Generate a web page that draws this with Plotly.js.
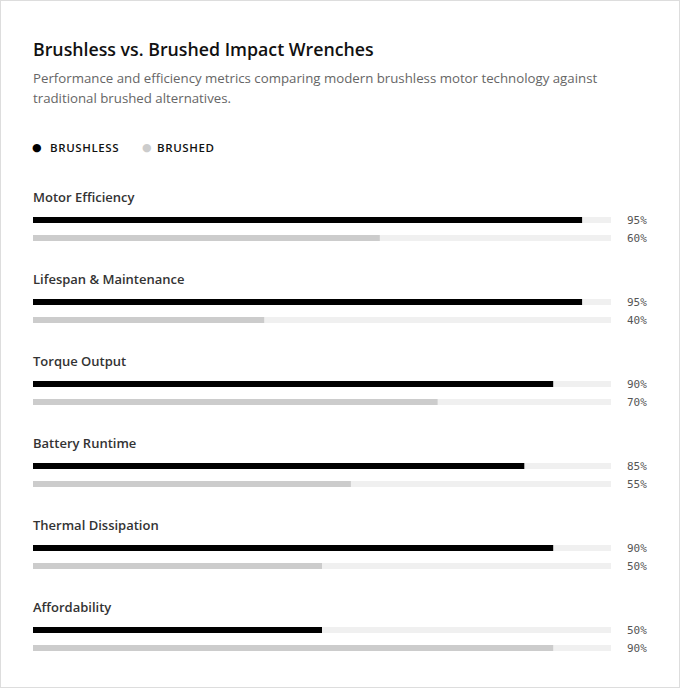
<!DOCTYPE html>
<html>
<head>
<meta charset="utf-8">
<script src="https://cdn.plot.ly/plotly-3.0.1.min.js"></script>
<style>
  html, body { margin: 0; padding: 0; background: #fff; }
  #wrap { width: 680px; height: 688px; box-sizing: border-box; border: 1px solid #ddd; background: #fff; }
  #graph { width: 678px; height: 686px; }
</style>
</head>
<body>
<div id="wrap"><div id="graph"></div></div>
<script>
var metrics = ["Motor Efficiency", "Lifespan & Maintenance", "Torque Output",
               "Battery Runtime", "Thermal Dissipation", "Affordability"];
var brushless = [95, 95, 90, 85, 90, 50];
var brushed = [60, 40, 70, 55, 50, 90];
var seriesNames = ["BRUSHLESS", "BRUSHED"];
var seriesColors = ["#000000", "#cccccc"];

var FONT = "'Open Sans', 'Noto Sans', sans-serif";
var MONO = "'DejaVu Sans Mono', 'Liberation Mono', monospace";

// rows are laid out in pixel units on the y axis (1 unit = 1px)
var rowTop = 196, rowStep = 82, barH = 6;
var TX = -2; // cancels the annotation padding so text starts on the bar edge
function labelY(i) { return rowTop + i * rowStep; }
function barY(i, s) { return rowTop + 23 + s * 18 + i * rowStep; }

var ysA = metrics.map(function (m, i) { return barY(i, 0); });
var ysB = metrics.map(function (m, i) { return barY(i, 1); });

var traces = [
  { type: 'bar', orientation: 'h', x: metrics.map(function () { return 100; }), y: ysA,
    width: barH, marker: { color: '#f0f0f0' }, hoverinfo: 'skip', showlegend: false },
  { type: 'bar', orientation: 'h', x: metrics.map(function () { return 100; }), y: ysB,
    width: barH, marker: { color: '#f0f0f0' }, hoverinfo: 'skip', showlegend: false },
  { type: 'bar', orientation: 'h', x: brushless, y: ysA, width: barH, name: seriesNames[0],
    marker: { color: seriesColors[0] }, showlegend: false },
  { type: 'bar', orientation: 'h', x: brushed, y: ysB, width: barH, name: seriesNames[1],
    marker: { color: seriesColors[1] }, showlegend: false }
];

var annotations = [];
annotations.push({ xref: 'paper', yref: 'y', x: 0, xshift: TX, y: 48, xanchor: 'left', yanchor: 'middle',
  showarrow: false, text: 'Brushless vs. Brushed Impact Wrenches',
  font: { family: FONT, size: 17.75, weight: 600, color: '#111' } });
annotations.push({ xref: 'paper', yref: 'y', x: 0, xshift: TX, y: 77, xanchor: 'left', yanchor: 'middle',
  showarrow: false, text: 'Performance and efficiency metrics comparing modern brushless motor technology against',
  font: { family: FONT, size: 13.25, color: '#666' } });
annotations.push({ xref: 'paper', yref: 'y', x: 0, xshift: TX, y: 97, xanchor: 'left', yanchor: 'middle',
  showarrow: false, text: 'traditional brushed alternatives.',
  font: { family: FONT, size: 13.25, color: '#666' } });

// legend
var dotShift = [-3, 107], textShift = [15, 122];
seriesNames.forEach(function (n, s) {
  annotations.push({ xref: 'paper', yref: 'y', x: 0, xshift: dotShift[s], y: 146, xanchor: 'left', yanchor: 'middle',
    showarrow: false, text: '●', font: { family: 'DejaVu Sans', size: 11, color: seriesColors[s] } });
  annotations.push({ xref: 'paper', yref: 'y', x: 0, xshift: textShift[s], y: 146, xanchor: 'left', yanchor: 'middle',
    showarrow: false, text: '<span style="letter-spacing:0.6px">' + n + '</span>',
    font: { family: FONT, size: 11.5, weight: 600, color: '#111' } });
});

metrics.forEach(function (m, i) {
  annotations.push({ xref: 'paper', yref: 'y', x: 0, xshift: TX, y: labelY(i), xanchor: 'left', yanchor: 'middle',
    showarrow: false, text: m, font: { family: FONT, size: 13, weight: 600, color: '#333' } });
  annotations.push({ xref: 'paper', yref: 'y', x: 1, xshift: 14, y: barY(i, 0), xanchor: 'left', yanchor: 'middle',
    showarrow: false, text: brushless[i] + '%', font: { family: MONO, size: 11, color: '#555' } });
  annotations.push({ xref: 'paper', yref: 'y', x: 1, xshift: 14, y: barY(i, 1), xanchor: 'left', yanchor: 'middle',
    showarrow: false, text: brushed[i] + '%', font: { family: MONO, size: 11, color: '#555' } });
});

var layout = {
  width: 678,
  height: 686,
  paper_bgcolor: '#fff',
  plot_bgcolor: '#fff',
  barmode: 'overlay',
  showlegend: false,
  margin: { l: 32, r: 68, t: 0, b: 0, pad: 0 },
  xaxis: { range: [0, 100], visible: false, fixedrange: true },
  yaxis: { range: [686, 0], visible: false, fixedrange: true },
  annotations: annotations,
  font: { family: FONT }
};

Plotly.newPlot('graph', traces, layout, { displayModeBar: false, staticPlot: true });
</script>
</body>
</html>
